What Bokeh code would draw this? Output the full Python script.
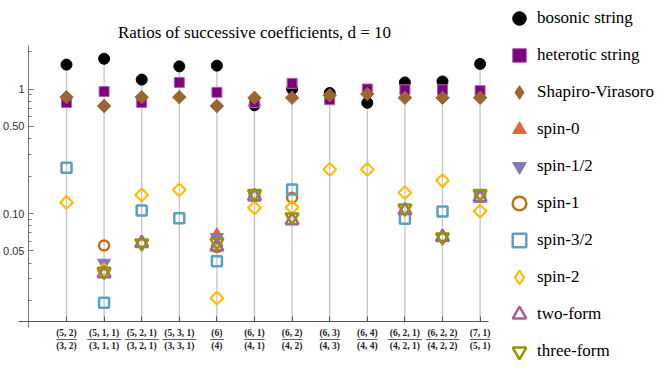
import math
import numpy as np
from bokeh.plotting import figure
from bokeh.models import Range1d, FixedTicker, Legend, LegendItem, Label
from bokeh.embed import file_html
from bokeh.resources import INLINE

nan = float("nan")

# ---- data -------------------------------------------------------------
positions = list(range(1, 13))
numerators = ["(5, 2)", "(5, 1, 1)", "(5, 2, 1)", "(5, 3, 1)", "(6)", "(6, 1)",
              "(6, 2)", "(6, 3)", "(6, 4)", "(6, 2, 1)", "(6, 2, 2)", "(7, 1)"]
denominators = ["(3, 2)", "(3, 1, 1)", "(3, 2, 1)", "(3, 3, 1)", "(4)", "(4, 1)",
                "(4, 2)", "(4, 3)", "(4, 4)", "(4, 2, 1)", "(4, 2, 2)", "(5, 1)"]

bosonic   = [1.57, 1.75, 1.19, 1.52, 1.54, 0.74, 1.00, 0.93, 0.775, 1.13, 1.15, 1.59]
heterotic = [0.78, 0.955, 0.78, 1.13, 0.94, 0.78, 1.11, 0.82, 1.00, 0.985, 0.985, 0.97]
shapiro   = [0.86, 0.73, 0.86, 0.86, 0.73, 0.85, 0.85, 0.89, 0.91, 0.85, 0.85, 0.85]
spin0     = [nan, nan, nan, nan, 0.067, nan, nan, nan, nan, nan, nan, nan]
spin_half = [nan, 0.040, nan, nan, 0.0645, nan, nan, nan, nan, nan, nan, nan]
spin1     = [nan, 0.0553, nan, nan, 0.0537, nan, 0.134, nan, nan, nan, nan, nan]
spin3half = [0.233, 0.0192, 0.1057, 0.0917, 0.0414, 0.1395, 0.156, nan, nan, 0.0906, 0.1038, 0.137]
spin2     = [0.1226, 0.035, 0.141, 0.155, 0.0209, 0.111, 0.112, 0.226, 0.226, 0.147, 0.184, 0.1044]
twoform   = [nan, 0.033, 0.0578, nan, 0.054, 0.137, 0.0879, nan, nan, 0.106, 0.0645, 0.134]
threeform = [nan, 0.0342, 0.0578, nan, 0.0587, 0.144, 0.0934, nan, nan, 0.110, 0.0645, 0.144]

series_names = ["bosonic string", "heterotic string", "Shapiro-Virasoro", "spin-0",
                "spin-1/2", "spin-1", "spin-3/2", "spin-2", "two-form", "three-form"]

y_major = [0.05, 0.1, 0.5, 1]
y_major_labels = ["0.05", "0.10", "0.50", "1"]
y_minor = [0.02, 0.03, 0.04, 0.06, 0.07, 0.08, 0.09, 0.2, 0.3, 0.4,
           0.6, 0.7, 0.8, 0.9, 2]

title_text = "Ratios of successive coefficients, d = 10"

# ---- geometry ------------------------------------------------------------
W, H = 660, 372
FRAME_L = 0
PX_PER_CAT = 37.6                      # horizontal scale
X0_PAGE = 66                           # page x of the first category
Y1_PAGE, PX_PER_DECADE = 88.5, 124.5   # page y of value 1, vertical scale

def x_at(page_x):
    return 1 + (page_x - X0_PAGE) / PX_PER_CAT

def y_at(page_y):
    return 10 ** ((Y1_PAGE - page_y) / PX_PER_DECADE)

x_start, x_end = x_at(FRAME_L), x_at(W)
y_bottom, y_top = y_at(H), y_at(0)
axis_y = y_at(321)          # where the horizontal axis sits
axis_x = x_at(28)           # where the vertical axis sits

p = figure(width=W, height=H, x_range=Range1d(x_start, x_end),
           y_range=Range1d(y_bottom, y_top), y_axis_type="log",
           output_backend="svg", toolbar_location=None,
           min_border_left=FRAME_L, min_border_right=0,
           min_border_top=0, min_border_bottom=0)
p.xgrid.visible = False
p.ygrid.visible = False
p.outline_line_color = None

# title as a label at the top
p.add_layout(Label(x=254 - FRAME_L, y=H - 32, x_units="screen", y_units="screen",
                   text=title_text, text_align="center", text_baseline="middle",
                   text_font="Liberation Serif", text_font_size="17px",
                   text_color="black"))

# x axis
bars = ["\u2500" * max(2, int(len(n) * 0.55 + 0.5)) for n in numerators]
p.xaxis.fixed_location = axis_y
p.xaxis.bounds = (x_at(18), x_at(488))
p.xaxis.ticker = FixedTicker(ticks=positions, minor_ticks=[])
p.xaxis.major_label_overrides = {pos: f"{n}\n{b}\n{d}" for pos, n, b, d in
                                 zip(positions, numerators, bars, denominators)}
p.xaxis.major_label_text_font = "Liberation Serif"
p.xaxis.major_label_text_font_style = "bold"
p.xaxis.major_label_text_font_size = "9.5px"
p.xaxis.major_label_text_line_height = 0.66
p.xaxis.major_label_text_color = "#222222"
p.xaxis.major_label_standoff = 6
p.xaxis.major_tick_in = 5
p.xaxis.major_tick_out = 0
p.xaxis.axis_line_color = "#555555"
p.xaxis.major_tick_line_color = "#555555"

# y axis
p.yaxis.fixed_location = axis_x
p.yaxis.bounds = (y_at(327), y_at(45))
p.yaxis.ticker = FixedTicker(ticks=y_major, minor_ticks=y_minor)
p.yaxis.major_label_overrides = {(1 if v == 1 else v): s for v, s in zip(y_major, y_major_labels)}
p.yaxis.major_label_text_font = "Liberation Sans"
p.yaxis.major_label_text_font_size = "11px"
p.yaxis.major_label_text_color = "#333333"
p.yaxis.major_label_standoff = 4
p.yaxis.major_tick_in = 5
p.yaxis.major_tick_out = 0
p.yaxis.minor_tick_in = 3
p.yaxis.minor_tick_out = 0
p.yaxis.axis_line_color = "#777777"
p.yaxis.major_tick_line_color = "#777777"
p.yaxis.minor_tick_line_color = "#777777"

# drop lines from the highest point to the axis
all_series = [bosonic, heterotic, shapiro, spin0, spin_half, spin1,
              spin3half, spin2, twoform, threeform]
tops = np.nanmax(np.array(all_series, dtype=float), axis=0)
p.segment(x0=positions, y0=[axis_y] * len(positions), x1=positions, y1=tops,
          line_color="#c4c4c4", line_width=1.3)

styles = [
    dict(marker="circle", size=11, fill_color="black", line_color="black", line_width=1),
    dict(marker="square", size=10, fill_color="#800080", line_color="#a865a8", line_width=1),
    dict(marker="square", size=9.5, angle=math.pi / 4, fill_color="#996633", line_color="#996633", line_width=1),
    dict(marker="triangle", size=13, fill_color="#EB6235", line_color="#EB6235", line_width=1),
    dict(marker="inverted_triangle", size=13, fill_color="#8778B3", line_color="#8778B3", line_width=1),
    dict(marker="circle", size=10, fill_color=None, line_color="#C56E1A", line_width=2.5),
    dict(marker="square", size=10, fill_color=None, line_color="#5D9EC7", line_width=2.5),
    dict(marker="square", size=9, angle=math.pi / 4, fill_color=None, line_color="#FFBF00", line_width=2.2),
    dict(marker="triangle", size=13, fill_color=None, line_color="#A5609D", line_width=2.5),
    dict(marker="inverted_triangle", size=13, fill_color=None, line_color="#929600", line_width=2.5),
]

items = []
for name, vals, st in zip(series_names, all_series, styles):
    r = p.scatter(x=positions, y=vals, **st)
    if "angle" in st:
        # legend swatches ignore the angle: use a diamond-shaped proxy
        proxy_style = {k: v for k, v in st.items() if k != "angle"}
        proxy_style["marker"] = "diamond"
        proxy = p.scatter(x=[nan], y=[nan], **proxy_style)
        items.append(LegendItem(label=name, renderers=[proxy]))
    else:
        items.append(LegendItem(label=name, renderers=[r]))

# ---- legend inside the (wide) frame, right of the data -------------------
glyph = 34
spacing = 3
n_items = len(items)
leg_h = n_items * glyph + (n_items - 1) * spacing
leg_top = 18 - glyph / 2
marker_x = 519
legend = Legend(items=items, ncols=1,
                location=(marker_x - glyph / 2 - FRAME_L, H - leg_top - leg_h),
                padding=0, margin=0, spacing=spacing,
                glyph_width=glyph, glyph_height=glyph, label_height=glyph,
                label_standoff=1,
                label_text_font="Liberation Serif", label_text_font_size="17px",
                label_text_color="black",
                border_line_color=None, background_fill_alpha=0)
p.add_layout(legend)

open("out.html", "w").write(file_html(p, INLINE))
